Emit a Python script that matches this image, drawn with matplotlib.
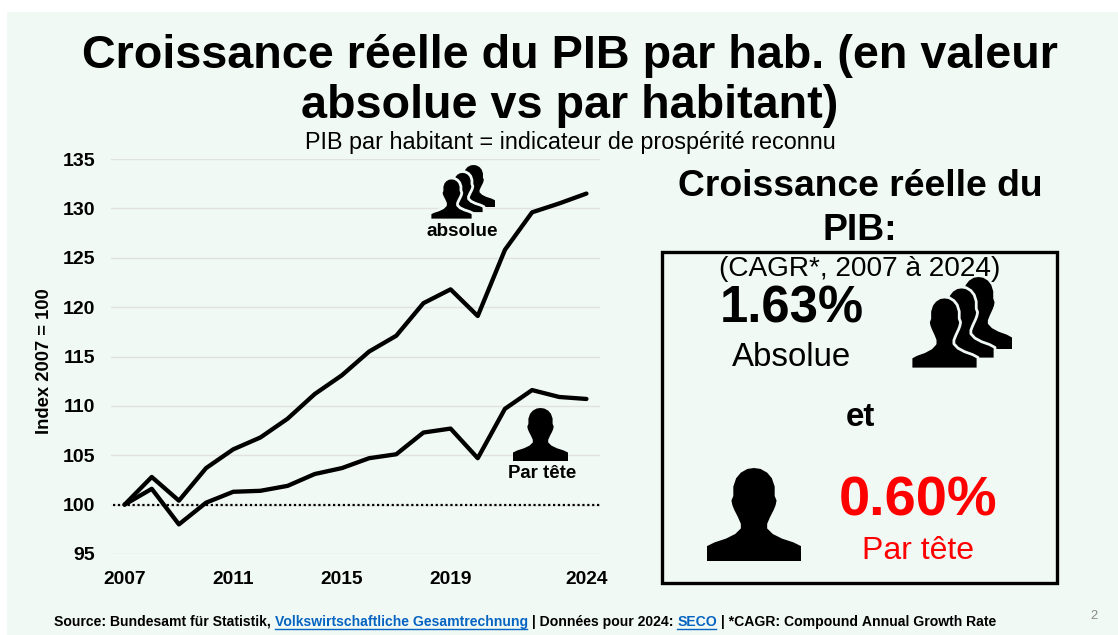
import matplotlib
matplotlib.use("Agg")
import matplotlib.pyplot as plt
from matplotlib.patches import Rectangle, PathPatch
from matplotlib.path import Path

W = 1118
H = 635
BG = "#f1f9f5"

years = list(range(2007, 2025))
absolue = [100, 102.8, 100.4, 103.7, 105.6, 106.8, 108.7, 111.2, 113.1,
           115.5, 117.1, 120.4, 121.8, 119.1, 125.8, 129.6, 130.5, 131.5]
par_tete = [100, 101.6, 98.0, 100.2, 101.3, 101.4, 101.9, 103.1, 103.7,
            104.7, 105.1, 107.3, 107.7, 104.7, 109.7, 111.6, 110.9, 110.7]
y_ticks = [95, 100, 105, 110, 115, 120, 125, 130, 135]
x_ticks = [2007, 2011, 2015, 2019, 2024]

plt.rcParams['font.family'] = ['Liberation Sans', 'DejaVu Sans']

fig = plt.figure(figsize=(W / 100, H / 100), dpi=100, facecolor="white")

# overlay in pixel coords, y going down like the picture
over = fig.add_axes([0, 0, 1, 1], zorder=0)
over.set_xlim(0, W)
over.set_ylim(H, 0)
over.axis("off")
over.add_patch(Rectangle((7, 12), W - 7, H - 12, facecolor=BG, edgecolor="none"))

top = fig.add_axes([0, 0, 1, 1], zorder=2)
top.set_xlim(0, W)
top.set_ylim(H, 0)
top.axis("off")
top.patch.set_alpha(0)

# chart
ax = fig.add_axes([111 / W, 1 - 554 / H, (600 - 111) / W, (554 - 159) / H], zorder=1)
ax.patch.set_alpha(0)
ax.set_xlim(2006.5, 2024.5)
ax.set_ylim(95, 135)
for s in ax.spines.values():
    s.set_visible(False)
ax.set_yticks(y_ticks)
ax.set_xticks(x_ticks)
ax.tick_params(axis="y", length=0, labelsize=14, pad=11.5)
ax.tick_params(axis="x", length=0, labelsize=13.8, pad=12)
for lab in ax.get_xticklabels() + ax.get_yticklabels():
    lab.set_fontweight("bold")
ax.grid(axis="y", color="#dfe2e0", linewidth=1)
ax.set_axisbelow(True)
ax.set_ylabel("Index 2007 = 100", fontsize=13.2, fontweight="bold")
ax.yaxis.set_label_coords(-0.119, 0.489)
ax.axhline(100, xmin=0.005, color="black", linewidth=1.6, linestyle=(0, (1, 1.2)))
ax.plot(years, absolue, color="black", linewidth=3.1, solid_capstyle="round")
ax.plot(years, par_tete, color="black", linewidth=3.1, solid_capstyle="round")

# left half of the silhouette, the right half is mirrored from it
half = [(0.0, 1.0), (0.0, 0.84), (0.08, 0.80), (0.20, 0.76), (0.30, 0.71), (0.36, 0.65),
        (0.36, 0.60), (0.33, 0.53), (0.29, 0.45), (0.27, 0.40), (0.26, 0.35), (0.28, 0.30),
        (0.28, 0.20), (0.31, 0.11), (0.36, 0.05), (0.43, 0.01), (0.50, 0.0)]
outline = half + [(1 - a, b) for a, b in reversed(half[:-1])] + [half[0]]


def person(x0, y0, w, h, edge=None):
    verts = [(x0 + a * w, y0 + b * h) for a, b in outline]
    codes = [Path.MOVETO] + [Path.LINETO] * (len(verts) - 2) + [Path.CLOSEPOLY]
    top.add_patch(PathPatch(Path(verts, codes), facecolor="black",
                            edgecolor=edge if edge else "none",
                            linewidth=2 if edge else 0, joinstyle="round"))


def group(x0, y0, w, h, dx, dy):
    person(x0 + 2 * dx, y0 + 2 * dy, w, h)
    person(x0 + dx, y0 + dy, w, h, edge=BG)
    person(x0, y0, w, h, edge=BG)


def label(x, y, s, px, **kw):
    kw.setdefault("ha", "center")
    kw.setdefault("va", "center")
    top.text(x, y, s, fontsize=px * 0.72, **kw)


# headings
label(570, 56, "Croissance réelle du PIB par hab. (en valeur", 46.8, fontweight="bold")
label(570, 106, "absolue vs par habitant)", 46.8, fontweight="bold")
label(570, 143, "PIB par habitant = indicateur de prospérité reconnu", 23.4)

# chart icons
group(430, 178, 43, 42, 11, -6.5)
label(462, 232, "absolue", 18.9, fontweight="bold")
person(513, 408, 55, 53)
label(542, 474, "Par tête", 18.6, fontweight="bold")

# right panel
label(860, 186, "Croissance réelle du", 37.3, fontweight="bold")
label(860, 231, "PIB:", 37.3, fontweight="bold")
top.add_patch(Rectangle((662, 252), 395, 331, facecolor="none", edgecolor="black", linewidth=2.4))
label(860, 269, "(CAGR*, 2007 à 2024)", 28)
label(792, 309, "1.63%", 50.7, fontweight="bold")
label(792, 357, "Absolue", 33)
group(911, 297, 67, 72, 17, -10)
label(860, 418, "et", 33, fontweight="bold")
person(707, 468, 94, 93)
label(918, 501, "0.60%", 56, fontweight="bold", color="#ff0000")
label(918, 551, "Par tête", 32, color="#ff0000")

# footer, link parts are blue and underlined
pieces = [("Source: Bundesamt für Statistik, ", False),
          ("Volkswirtschaftliche Gesamtrechnung", True),
          (" | Données pour 2024: ", False),
          ("SECO", True),
          (" | *CAGR: Compound Annual Growth Rate", False)]
renderer = fig.canvas.get_renderer()
x = 54
for s, link in pieces:
    t = top.text(x, 622, s.replace(" ", "\u00a0"), fontsize=10.08, fontweight="bold",
                 va="center", ha="left", color="#0563c1" if link else "black")
    box = t.get_window_extent(renderer)
    if link:
        top.plot([x, x + box.width - 1], [628.5, 628.5], color="#0563c1", linewidth=1)
    x += box.width
top.set_xlim(0, W)
top.set_ylim(H, 0)
label(1094, 616, "2", 13, color="#888888")

fig.savefig("out.png", dpi=100, facecolor="white")
